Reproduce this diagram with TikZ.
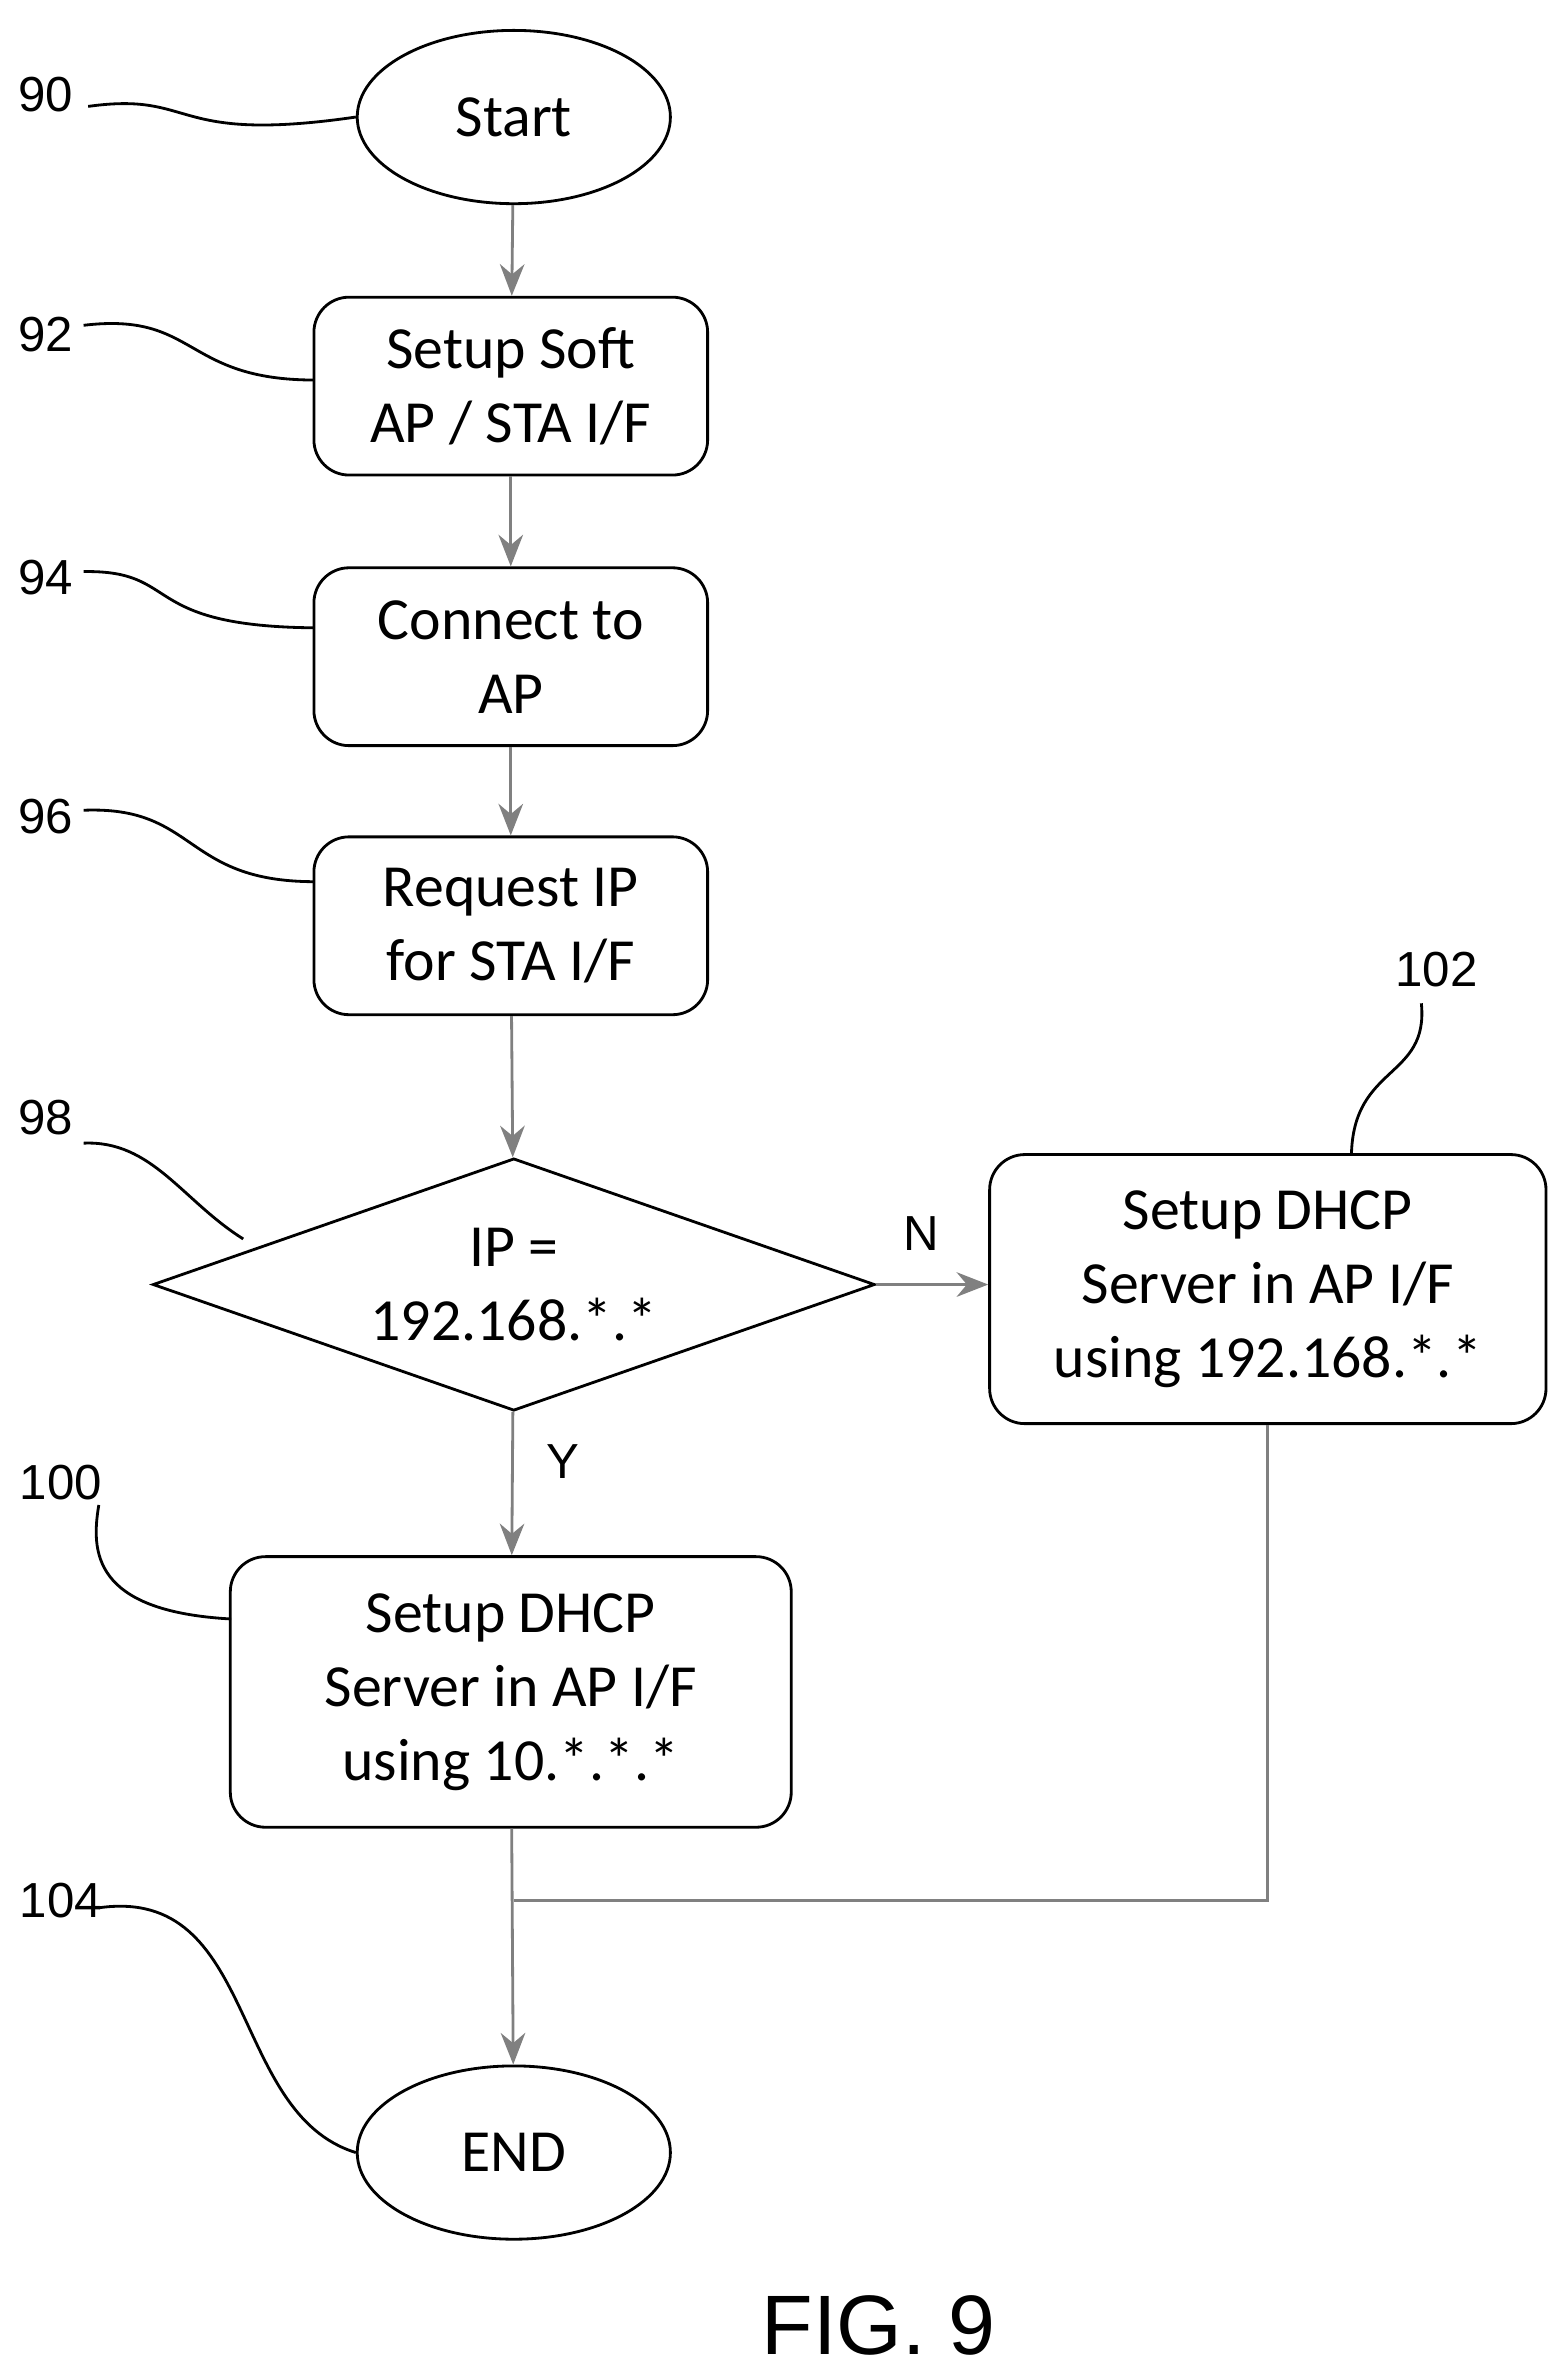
\documentclass[tikz,border=0pt]{standalone}
\usepackage{fontspec}
\setmainfont{Carlito}
\newfontfamily\arialfont{Liberation Sans}
\usetikzlibrary{shapes.geometric,arrows.meta}
\begin{document}
\begin{tikzpicture}[x=0.0152cm,y=-0.0152cm,
    box/.style={draw, thick, rounded corners=10pt, align=center, font=\fontsize{17}{21}\selectfont},
    term/.style={draw, thick, ellipse, minimum width=206*0.0152cm, minimum height=114*0.0152cm, font=\fontsize{17}{20}\selectfont},
    ref/.style={font=\arialfont\fontsize{14}{16}\selectfont},
    flow/.style={draw=gray, thick, -{Stealth[length=9pt,width=7pt]}}]
    \useasboundingbox (0,0) rectangle (1030,1563);

    \node[term] (90) at (338,77) {Start};
    \node[box, minimum width=259*0.0152cm, minimum height=117*0.0152cm] (92) at (336,254) {Setup Soft\\AP / STA I/F};
    \node[box, minimum width=259*0.0152cm, minimum height=117*0.0152cm] (94) at (336,432) {Connect to\\AP};
    \node[box, minimum width=259*0.0152cm, minimum height=117*0.0152cm] (96) at (336,609) {Request IP\\for STA I/F};
    \node[draw, thick, diamond, aspect=2.86, minimum width=475*0.0152cm, minimum height=166*0.0152cm, inner sep=0pt, align=center, font=\fontsize{17}{21}\selectfont] (98) at (338,845) {IP =\\192.168.*.*};
    \node[box, minimum width=366*0.0152cm, minimum height=177*0.0152cm] (102) at (834,848) {Setup DHCP\\Server in AP I/F\\using 192.168.*.*};
    \node[box, minimum width=369*0.0152cm, minimum height=178*0.0152cm] (100) at (336,1113) {Setup DHCP\\Server in AP I/F\\using 10.*.*.*};
    \node[term] (104) at (338,1416) {END};
    \coordinate (j) at (338,1250);

    \draw[flow] (90) -- (92);
    \draw[flow] (92) -- (94);
    \draw[flow] (94) -- (96);
    \draw[flow] (96) -- (98);
    \draw[flow] (98.east) -- (102.west |- 98.east) node[pos=0.4, above=6pt, font=\arialfont\fontsize{14}{16}\selectfont] {N};
    \draw[flow] (98) -- (100) node[pos=0.35, right=6pt, font=\arialfont\fontsize{14}{16}\selectfont] {Y};
    \draw[flow] (100) -- (104);
    \draw[draw=gray, thick] (102) |- (j);

    % reference numerals
    \node[ref] (l90) at (30,62) {90};
    \node[ref] (l92) at (30,220) {92};
    \node[ref] (l94) at (30,380) {94};
    \node[ref] (l96) at (30,537) {96};
    \node[ref] (l98) at (30,735) {98};
    \node[ref] (l100) at (40,975) {100};
    \node[ref] (l102) at (945,638) {102};
    \node[ref] (l104) at (40,1250) {104};

    \draw[thick] (58,70) .. controls (130,60) and (110,95) .. (90.west);
    \draw[thick] (55,214) .. controls (130,205) and (120,250) .. (207,250);
    \draw[thick] (55,376) .. controls (120,375) and (90,412) .. (207,413);
    \draw[thick] (55,533) .. controls (130,530) and (120,580) .. (207,580);
    \draw[thick] (55,752) .. controls (100,750) and (120,790) .. (160,815);
    \draw[thick] (65,990) .. controls (60,1020) and (60,1060) .. (152,1065);
    \draw[thick] (935,660) .. controls (940,710) and (890,700) .. (889,760);
    \draw[thick] (65,1255) .. controls (170,1240) and (150,1390) .. (104.west);

    \node[font=\arialfont\fontsize{24}{28}\selectfont] (fig) at (578,1530) {FIG. 9};
\end{tikzpicture}
\end{document}
